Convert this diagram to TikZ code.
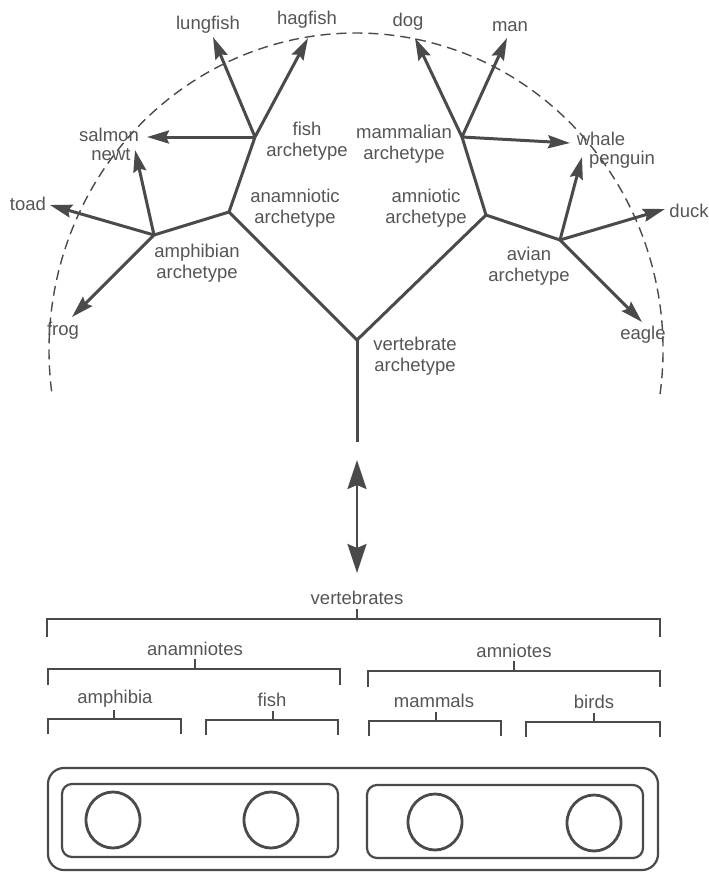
\documentclass[tikz,border=0pt]{standalone}
\usepackage{fontspec}
\setmainfont{Liberation Sans}
\usetikzlibrary{arrows.meta,shapes.geometric,calc}
\definecolor{ink}{HTML}{4A4A4A}
\definecolor{txt}{HTML}{555555}

\begin{document}
\begin{tikzpicture}[x=1pt,y=1pt,
  lbl/.style={text=txt, font=\fontsize{18.5}{20.5}\selectfont, inner sep=0pt, align=center},
  branch/.style={draw=ink, line width=3pt},
  tip/.style={branch, -{Stealth[length=22pt,width=13pt,inset=3pt]}},
  twoway/.style={draw=ink, line width=2.6pt,
    {Stealth[length=29pt,width=19pt,inset=4pt]}-{Stealth[length=29pt,width=19pt,inset=4pt]}},
  guide/.style={draw=ink, line width=1.4pt, dash pattern=on 10pt off 6pt},
  bracket/.style={draw=ink, line width=2.2pt},
  box/.style={draw=ink, line width=2.2pt, rounded corners=#1, inner sep=0pt},
  blob/.style={draw=ink, line width=2.8pt, ellipse, minimum width=54pt, minimum height=56pt, inner sep=0pt}
]
\useasboundingbox (0,0) rectangle (709,-873);

% ---------- archetype tree ----------
\coordinate (vert)  at (357,-340);
\coordinate (stem)  at (357,-442);
\coordinate (anam)  at (229,-212);
\coordinate (amni)  at (486,-215);
\coordinate (amph)  at (154,-235);
\coordinate (fishj) at (255,-137);
\coordinate (mamm)  at (462,-137);
\coordinate (avian) at (560,-240);

% arrow ends
\coordinate (tLung)  at (213,-37);
\coordinate (tHag)   at (308,-38);
\coordinate (tSalm)  at (147,-137);
\coordinate (tNewt)  at (135,-150);
\coordinate (tToad)  at (50,-205);
\coordinate (tFrog)  at (72,-317);
\coordinate (tDog)   at (415,-38);
\coordinate (tMan)   at (507,-38);
\coordinate (tWhale) at (570,-143);
\coordinate (tPeng)  at (582,-157);
\coordinate (tDuck)  at (665,-209);
\coordinate (tEagle) at (642,-322);

% dashed boundary
\draw[guide] ($(356,-350)+(-8:307 and 317)$) arc[start angle=-8, end angle=188, x radius=307, y radius=317];

% branches
\draw[branch] (stem) -- (vert);
\draw[branch, line join=miter] (anam) -- (vert) -- (amni);
\draw[branch] (amph) -- (anam) -- (fishj);
\draw[branch] (mamm) -- (amni) -- (avian);

\draw[tip] (fishj) -- (tLung);
\draw[tip] (fishj) -- (tHag);
\draw[tip] (fishj) -- (tSalm);
\draw[tip] (amph) -- (tNewt);
\draw[tip] (amph) -- (tToad);
\draw[tip] (amph) -- (tFrog);
\draw[tip] (mamm) -- (tDog);
\draw[tip] (mamm) -- (tMan);
\draw[tip] (mamm) -- (tWhale);
\draw[tip] (avian) -- (tPeng);
\draw[tip] (avian) -- (tDuck);
\draw[tip] (avian) -- (tEagle);

% labels
\node[lbl] (lLung)  at (208,-25)  {lungfish};
\node[lbl] (lHag)   at (307,-20)  {hagfish};
\node[lbl] (lDog)   at (408,-22)  {dog};
\node[lbl] (lMan)   at (510,-27)  {man};
\node[lbl] (lSalm)  at (109,-135) {salmon};
\node[lbl] (lNewt)  at (111,-155) {newt};
\node[lbl] (lToad)  at (28,-204)  {toad};
\node[lbl] (lFrog)  at (63,-331)  {frog};
\node[lbl] (lWhale) at (601,-139) {whale};
\node[lbl] (lPeng)  at (622,-160) {penguin};
\node[lbl] (lDuck)  at (689,-211) {duck};
\node[lbl] (lEagle) at (643,-335) {eagle};

\node[lbl] (aFish)  at (307,-141) {fish\\archetype};
\node[lbl] (aAnam)  at (295,-208) {anamniotic\\archetype};
\node[lbl] (aAmph)  at (197,-263) {amphibian\\archetype};
\node[lbl] (aMamm)  at (404,-144) {mammalian\\archetype};
\node[lbl] (aAmni)  at (426,-208) {amniotic\\archetype};
\node[lbl] (aAvian) at (529,-266) {avian\\archetype};
\node[lbl] (aVert)  at (415,-356) {vertebrate\\archetype};

% correspondence arrow
\coordinate (dUp)   at (357,-460);
\coordinate (dDown) at (357,-573);
\draw[twoway] (dUp) -- (dDown);

% ---------- classification brackets ----------
\node[lbl] (cVert) at (357,-598) {vertebrates};
\draw[bracket] (47,-637) |- (660,-619) -- (660,-637);
\coordinate (kVert) at (357,-619);
\draw[bracket] (kVert) -- ++(0,10);

\node[lbl] (cAnam) at (195,-649) {anamniotes};
\draw[bracket] (48,-685) |- (340,-669) -- (340,-685);
\coordinate (kAnam) at (195,-669);
\draw[bracket] (kAnam) -- ++(0,10);

\node[lbl] (cAmni) at (514,-651) {amniotes};
\draw[bracket] (368,-687) |- (660,-671) -- (660,-687);
\coordinate (kAmni) at (514,-671);
\draw[bracket] (kAmni) -- ++(0,10);

\node[lbl] (cAmph) at (115,-699) {amphibia};
\node[lbl] (cFish) at (272,-700) {fish};
\node[lbl] (cMamm) at (434,-701) {mammals};
\node[lbl] (cBird) at (594,-702) {birds};

\draw[bracket] (48,-734) |- (181,-719) -- (181,-734);
\draw[bracket] (206,-735) |- (338,-720) -- (338,-735);
\draw[bracket] (369,-736) |- (501,-721) -- (501,-736);
\draw[bracket] (526,-737) |- (660,-722) -- (660,-737);
\coordinate (kAmph) at (114,-719);
\coordinate (kFish) at (273,-720);
\coordinate (kMamm) at (436,-721);
\coordinate (kBird) at (594,-722);
\draw[bracket] (kAmph) -- ++(0,9);
\draw[bracket] (kFish) -- ++(0,9);
\draw[bracket] (kMamm) -- ++(0,9);
\draw[bracket] (kBird) -- ++(0,9);

% ---------- nested sets ----------
\node[box=16pt, minimum width=610pt, minimum height=102pt] (outer) at (353,-819) {};
\node[box=10pt, minimum width=276pt, minimum height=73pt] (inL) at (200,-820.5) {};
\node[box=10pt, minimum width=276pt, minimum height=73pt] (inR) at (505,-821.5) {};
\node[blob] (sAmph) at (113,-820) {};
\node[blob] (sFish) at (271,-820) {};
\node[blob] (sMamm) at (435,-822) {};
\node[blob] (sBird) at (594,-823) {};
\end{tikzpicture}
\end{document}
